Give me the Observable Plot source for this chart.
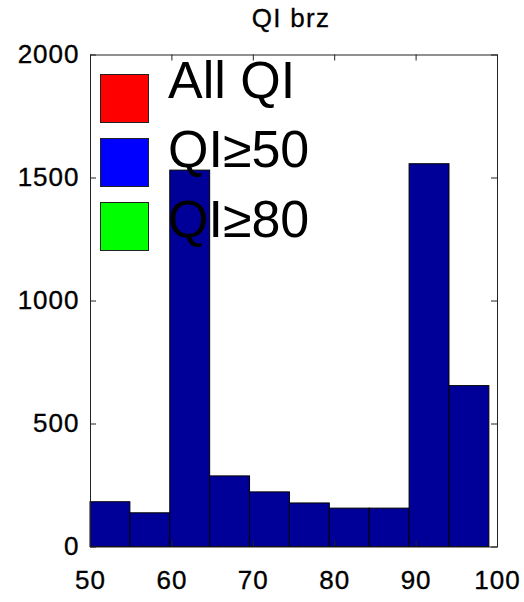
<!DOCTYPE html>
<html>
<head>
<meta charset="utf-8">
<script src="https://cdn.jsdelivr.net/npm/d3@7"></script>
<script src="https://cdn.jsdelivr.net/npm/@observablehq/plot@0.6"></script>
<style>
  html, body { margin: 0; padding: 0; background: #fff; }
  #wrap { position: relative; width: 524px; height: 602px; font-family: "Liberation Sans", Arial, sans-serif; }
  #title { position: absolute; left: 0; top: 5px; width: 582px; text-align: center; font-size: 26px; line-height: 26px; letter-spacing: 1.3px; color: #000; -webkit-text-stroke: 0.3px #000; }
  .sw { position: absolute; width: 47px; height: 47px; border: 1px solid #222; }
  .lt { position: absolute; font-size: 52px; line-height: 52px; color: #000; white-space: nowrap; }
  .ticklab text { letter-spacing: 1px; stroke: #000; stroke-width: 0.35px; }
</style>
</head>
<body>
<div id="wrap"></div>
<script>
// Histogram bin edges (MATLAB hist, 10 bins over 50..99)
const binStarts = [50, 54.9, 59.8, 64.7, 69.6, 74.5, 79.4, 84.3, 89.2, 94.1];
const binEnds   = [54.9, 59.8, 64.7, 69.6, 74.5, 79.4, 84.3, 89.2, 94.1, 99];
const counts    = [182, 137, 1530, 287, 222, 177, 156, 156, 1556, 654];

const xTicks = [50, 60, 70, 80, 90, 100];
const yTicks = [0, 500, 1000, 1500, 2000];
const title = "QI brz";

const legendLabels = ["All QI", "QI≥50", "QI≥80"];
const legendColors = ["#ff0000", "#0000ff", "#00ff00"];

const bins = binStarts.map((s, i) => ({x1: s, x2: binEnds[i], count: counts[i]}));

const W = 524, H = 602;
const mL = 90, mR = 27, mT = 54.5, mB = 55.5;
const fw = W - mL - mR, fh = H - mT - mB, tk = 6;

const chart = Plot.plot({
  width: W,
  height: H,
  marginLeft: mL,
  marginRight: mR,
  marginTop: mT,
  marginBottom: mB,
  style: {fontFamily: '"Liberation Sans", Arial, sans-serif', background: "#fff", color: "#000"},
  x: {domain: [50, 100], axis: null},
  y: {domain: [0, 2000], axis: null},
  marks: [
    Plot.rectY(bins, {x1: "x1", x2: "x2", y1: 0, y2: "count", fill: "#000099", stroke: "#000", strokeWidth: 1}),
    Plot.frame({stroke: "#222", strokeWidth: 1}),
    // inward ticks on all four sides
    Plot.ruleX(xTicks, {x: d => d, insetTop: fh - tk, stroke: "#222"}),
    Plot.ruleX(xTicks, {x: d => d, insetBottom: fh - tk, stroke: "#222"}),
    Plot.ruleY(yTicks, {y: d => d, insetRight: fw - tk, stroke: "#222"}),
    Plot.ruleY(yTicks, {y: d => d, insetLeft: fw - tk, stroke: "#222"}),
    // tick labels
    Plot.axisX({anchor: "bottom", ticks: xTicks, tickSize: 0, tickPadding: 24, label: null, fontSize: 26, fill: "#000", className: "ticklab", tickFormat: d => String(d)}),
    Plot.axisY({anchor: "left", ticks: yTicks, tickSize: 0, tickPadding: 11, label: null, fontSize: 26, fill: "#000", className: "ticklab", tickFormat: d => String(d)})
  ]
});

const wrap = document.getElementById("wrap");
const t0 = document.createElement("div");
t0.id = "title";
t0.textContent = title;
wrap.appendChild(t0);
wrap.appendChild(chart);

// legend overlay (inside axes, top-left)
const swTops = [74, 138, 202];
const txtTops = [54, 123, 193];
legendLabels.forEach((lab, i) => {
  const sw = document.createElement("div");
  sw.className = "sw";
  sw.style.left = "100px";
  sw.style.top = swTops[i] + "px";
  sw.style.background = legendColors[i];
  wrap.appendChild(sw);
  const t = document.createElement("div");
  t.className = "lt";
  t.style.left = "168px";
  t.style.top = txtTops[i] + "px";
  t.textContent = lab;
  wrap.appendChild(t);
});
</script>
</body>
</html>
